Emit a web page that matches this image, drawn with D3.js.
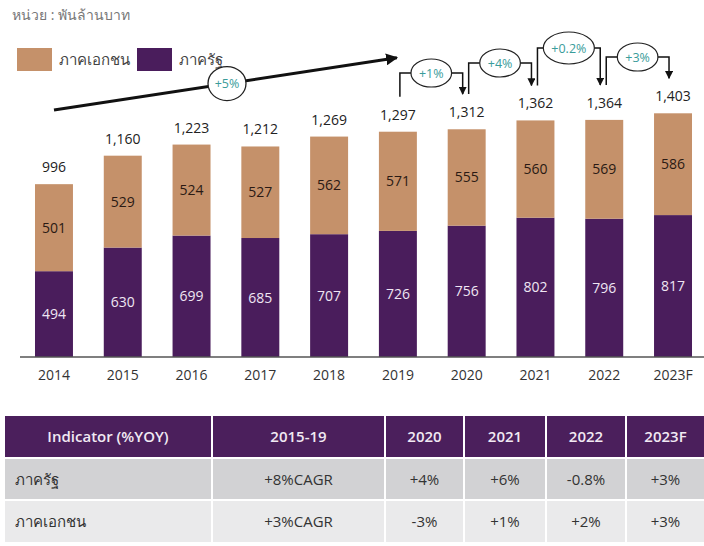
<!DOCTYPE html>
<html><head><meta charset="utf-8">
<script src="https://cdn.jsdelivr.net/npm/d3@7"></script>
<style>
html,body{margin:0;padding:0;background:#fff;}
svg{display:block;font-family:"Open Sans","Noto Sans",sans-serif;}
</style></head>
<body>
<svg id="chart" width="704" height="546"></svg>
<script>
// ---- data ----
const years = ["2014","2015","2016","2017","2018","2019","2020","2021","2022","2023F"];
const government = [494,630,699,685,707,726,756,802,796,817];
const privateSector = [501,529,524,527,562,571,555,560,569,586];
const totals = [996,1160,1223,1212,1269,1297,1312,1362,1364,1403];
const seriesNames = ["ภาคเอกชน","ภาครัฐ"];
const unitLabel = "หน่วย : พันล้านบาท";
const trendLabel = "+5%";
const yoyFrom = ["2019","2020","2021","2022"];
const yoyTo = ["2020","2021","2022","2023F"];
const yoyLabels = ["+1%","+4%","+0.2%","+3%"];
const tableHeader = ["Indicator (%YOY)","2015-19","2020","2021","2022","2023F"];
const tableRowGov = ["ภาครัฐ","+8%CAGR","+4%","+6%","-0.8%","+3%"];
const tableRowPriv = ["ภาคเอกชน","+3%CAGR","-3%","+1%","+2%","+3%"];

// ---- styles ----
const colPriv = "#C5916A", colGov = "#4A1D5C", teal = "#3a9c9a";
const svg = d3.select("#chart");

const x = d3.scaleBand().domain(years).range([20, 707]).paddingInner(0.448).paddingOuter(0.218);
const y = d3.scaleLinear().domain([0, 1000]).range([357, 183.3]);
const cx = d => x(d) + x.bandwidth()/2;

// arrow markers
const defs = svg.append("defs");
defs.append("marker").attr("id","ah").attr("viewBox","0 0 10 10").attr("refX",9).attr("refY",5)
  .attr("markerWidth",4).attr("markerHeight",4).attr("orient","auto")
  .append("path").attr("d","M0,0L10,5L0,10Z").attr("fill","#111");
defs.append("marker").attr("id","ah2").attr("viewBox","0 0 10 10").attr("refX",9).attr("refY",5)
  .attr("markerWidth",8).attr("markerHeight",8).attr("markerUnits","userSpaceOnUse").attr("orient","auto")
  .append("path").attr("d","M0,0L10,5L0,10Z").attr("fill","#111");

// unit
svg.append("text").attr("x",12).attr("y",20).attr("font-size",14).attr("fill","#777").text(unitLabel);

// legend
const leg = [{n:seriesNames[0],c:colPriv,x:17},{n:seriesNames[1],c:colGov,x:137}];
leg.forEach(l=>{
  svg.append("rect").attr("x",l.x).attr("y",48).attr("width",35).attr("height",23).attr("fill",l.c);
  svg.append("text").attr("x",l.x+42).attr("y",65).attr("font-size",15).attr("fill","#444").text(l.n);
});

// bars
const g = svg.append("g");
years.forEach((yr,i)=>{
  g.append("rect").attr("x",x(yr)).attr("width",x.bandwidth())
    .attr("y",y(government[i])).attr("height",y(0)-y(government[i])).attr("fill",colGov);
  g.append("rect").attr("x",x(yr)).attr("width",x.bandwidth())
    .attr("y",y(government[i]+privateSector[i])).attr("height",y(0)-y(privateSector[i])).attr("fill",colPriv);
  g.append("text").attr("x",cx(yr)).attr("y",(y(0)+y(government[i]))/2+5).attr("text-anchor","middle")
    .attr("font-size",14).attr("fill","#efe6f3").text(government[i]);
  g.append("text").attr("x",cx(yr)).attr("y",(y(government[i])+y(government[i]+privateSector[i]))/2+5).attr("text-anchor","middle")
    .attr("font-size",14).attr("fill","#2a1a14").text(privateSector[i]);
  g.append("text").attr("x",cx(yr)).attr("y",y(totals[i])-12).attr("text-anchor","middle")
    .attr("font-size",14).attr("fill","#222").text(d3.format(",")(totals[i]));
});

// axis
const ax = svg.append("g").attr("transform","translate(0,357)").call(d3.axisBottom(x).tickSize(0).tickPadding(13));
ax.select(".domain").attr("d","M20,0H704").attr("stroke","#555").attr("stroke-width",1.5);
ax.selectAll("text").attr("font-size",14).attr("fill","#333").attr("font-family","'Open Sans','Noto Sans',sans-serif");

// trend arrow
const tx0 = cx(years[0]), ty0 = y(totals[0]) - 74;
const tx1 = cx("2019") - 1, ty1 = y(totals[5]) - 74;
svg.append("line").attr("x1",tx0).attr("y1",ty0).attr("x2",tx1).attr("y2",ty1)
  .attr("stroke","#111").attr("stroke-width",3).attr("marker-end","url(#ah)");
const tcx = 227, tcy = ty0 + (ty1-ty0)*(tcx-tx0)/(tx1-tx0);
svg.append("ellipse").attr("cx",tcx).attr("cy",tcy).attr("rx",19).attr("ry",17).attr("fill","#fff").attr("stroke","#222").attr("stroke-width",1.3);
svg.append("text").attr("x",tcx).attr("y",tcy+4.5).attr("text-anchor","middle").attr("font-size",12.5).attr("fill",teal).text(trendLabel);

// yoy brackets
const levels = [73, 63, 48, 57];
yoyLabels.forEach((lab,k)=>{
  const i0 = years.indexOf(yoyFrom[k]), i1 = years.indexOf(yoyTo[k]);
  const xa = cx(yoyFrom[k]) + 2, xb = cx(yoyTo[k]) - 4;
  const ya = y(totals[i0]) - 35, yb = y(totals[i1]) - 35;
  const lv = levels[k];
  const grp = svg.append("g");
  grp.append("path")
    .attr("d",`M${xa},${ya}V${lv}H${xb}V${yb}`).attr("fill","none").attr("stroke","#111").attr("stroke-width",1.5)
    .attr("marker-end","url(#ah2)");
  const ell = grp.append("ellipse").attr("cx",(xa+xb)/2).attr("cy",lv)
    .attr("fill","#fff").attr("stroke","#222").attr("stroke-width",1.2);
  const t = grp.append("text").attr("x",(xa+xb)/2).attr("y",lv+4.5).attr("text-anchor","middle")
    .attr("font-size",12.5).attr("fill",teal).text(lab);
  const w = t.node().getComputedTextLength();
  ell.attr("rx", Math.max(17, w/2 + 8)).attr("ry", k===2 ? 16 : 14);
});

// table
const colEdges = [5,212,385,464,546,626,704];
const rowsY = [[416,457],[459,499],[501,542]];
const rows = [tableHeader, tableRowGov, tableRowPriv];
const fills = ["#4B1F5C","#D2D2D4","#EAEAEB"];
rows.forEach((r,ri)=>{
  r.forEach((cell,ci)=>{
    const x0 = colEdges[ci] + (ci>0?1:0), x1 = colEdges[ci+1] - (ci<5?1:0);
    svg.append("rect").attr("x",x0).attr("y",rowsY[ri][0]).attr("width",x1-x0).attr("height",rowsY[ri][1]-rowsY[ri][0]).attr("fill",fills[ri]);
    const left = (ri>0 && ci===0);
    svg.append("text").attr("x", left ? 15 : (x0+x1)/2).attr("y",(rowsY[ri][0]+rowsY[ri][1])/2+5.5)
      .attr("text-anchor", left ? "start" : "middle")
      .attr("font-size",15).attr("font-weight", ri===0 ? 600 : 400)
      .attr("fill", ri===0 ? "#f1e9f3" : "#333").text(cell);
  });
});
</script>
</body></html>
